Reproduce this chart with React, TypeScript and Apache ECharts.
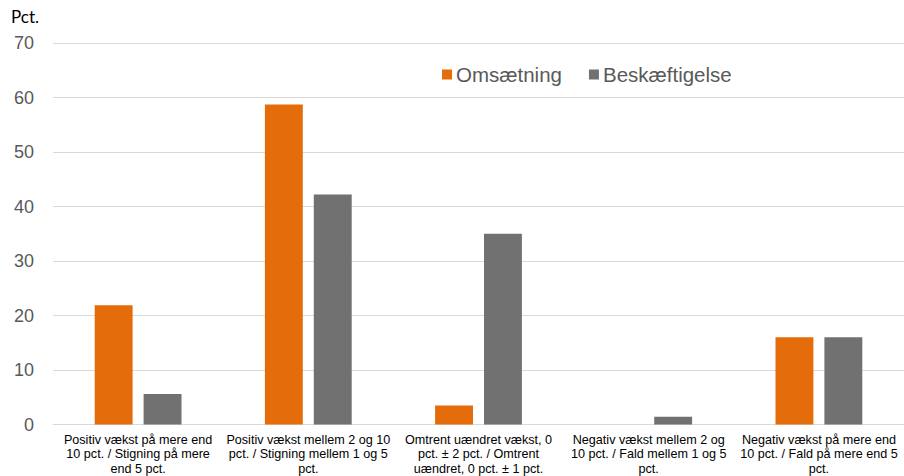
import React, { useEffect, useRef } from "react";
import * as echarts from "echarts";

const categories = [
  "Positiv vækst på mere end\n10 pct. / Stigning på mere\nend 5 pct.",
  "Positiv vækst mellem 2 og 10\npct. / Stigning mellem 1 og 5\npct.",
  "Omtrent uændret vækst, 0\npct. ± 2 pct. / Omtrent\nuændret, 0 pct. ± 1 pct.",
  "Negativ vækst mellem 2 og\n10 pct. / Fald mellem 1 og 5\npct.",
  "Negativ vækst på mere end\n10 pct. / Fald på mere end 5\npct.",
];
const omsaetning = [21.9, 58.7, 3.5, 0, 16.0];
const beskaeftigelse = [5.6, 42.2, 35.0, 1.4, 16.0];
const seriesNames = ["Omsætning", "Beskæftigelse"];
const yUnit = "Pct.";

export default function App() {
  const ref = useRef<HTMLDivElement>(null);
  useEffect(() => {
    if (!ref.current) return;
    const chart = echarts.init(ref.current, null, { renderer: "svg" });
    const font = "'Liberation Sans', Arial, sans-serif";
    chart.setOption({
      animation: false,
      backgroundColor: "#ffffff",
      textStyle: { fontFamily: font },
      title: {
        text: yUnit,
        left: 6,
        top: 3,
        textStyle: { fontFamily: "Lato, 'Liberation Sans', sans-serif", fontSize: 17, fontWeight: "normal", color: "#000000" },
      },
      legend: {
        left: 437,
        top: 59,
        icon: "rect",
        itemWidth: 10,
        itemHeight: 10,
        itemGap: 27,
        textStyle: { fontFamily: font, fontSize: 20.5, color: "#595959", padding: [0, 0, 0, -1] },
        data: seriesNames,
      },
      grid: { left: 53, right: 0, top: 43, bottom: 51, containLabel: false },
      xAxis: {
        type: "category",
        data: categories,
        axisTick: { show: false },
        axisLine: { lineStyle: { color: "#D9D9D9" } },
        axisLabel: {
          interval: 0,
          color: "#000000",
          fontSize: 12.6,
          lineHeight: 14.5,
          margin: 8,
          fontFamily: font,
        },
      },
      yAxis: {
        type: "value",
        min: 0,
        max: 70,
        interval: 10,
        axisLine: { show: false },
        axisTick: { show: false },
        splitLine: { lineStyle: { color: "#D9D9D9" } },
        axisLabel: { color: "#595959", fontSize: 18, margin: 19, fontFamily: font },
      },
      series: [
        {
          name: seriesNames[0],
          type: "bar",
          data: omsaetning,
          itemStyle: { color: "#E46C0A" },
          barGap: "29%",
          barCategoryGap: "49%",
        },
        {
          name: seriesNames[1],
          type: "bar",
          data: beskaeftigelse,
          itemStyle: { color: "#717171" },
          barGap: "29%",
          barCategoryGap: "49%",
        },
      ],
    });
    return () => chart.dispose();
  }, []);
  return (
    <div
      ref={ref}
      style={{ position: "fixed", left: 0, top: 0, width: 904, height: 476 }}
    />
  );
}
